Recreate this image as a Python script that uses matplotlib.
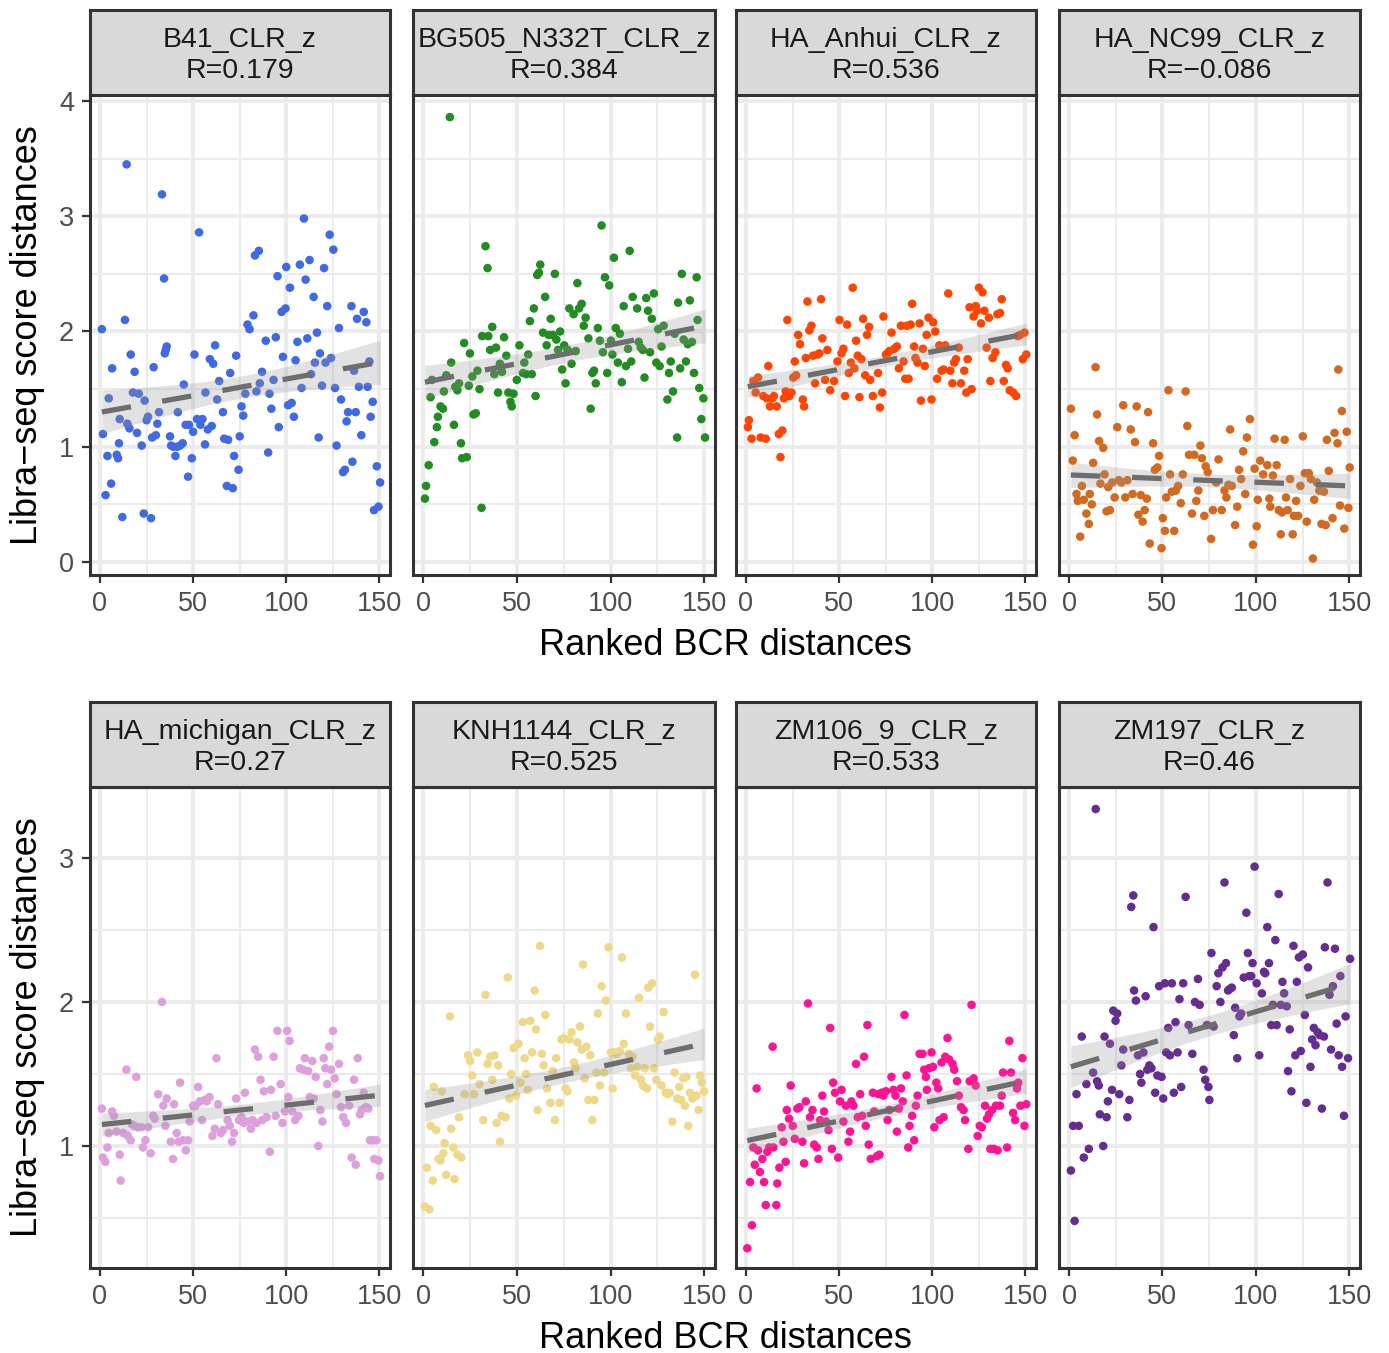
import numpy as np
import matplotlib.pyplot as plt

plt.rcParams['font.family'] = ['Liberation Sans', 'DejaVu Sans']

# ------------------------------------------------------------
# DATA (rank vs. score distance)
# ------------------------------------------------------------
panel_names = ["B41_CLR_z", "BG505_N332T_CLR_z", "HA_Anhui_CLR_z", "HA_NC99_CLR_z",
               "HA_michigan_CLR_z", "KNH1144_CLR_z", "ZM106_9_CLR_z", "ZM197_CLR_z"]
panel_r = ["0.179", "0.384", "0.536", "\u22120.086", "0.27", "0.525", "0.533", "0.46"]
panel_colors = ["#4169E1", "#228B22", "#FF4500", "#D2691E",
                "#DDA0DD", "#EED98A", "#FF1493", "#662D91"]

b41_x = [1, 1.6, 3, 4, 4.7, 6, 6.5, 9, 9.7, 10.2, 10.6, 12, 13.4, 14.3, 14.7, 15.8, 16.5, 17.7, 18.6, 19.9,
         20.8, 22.4, 23.5, 24, 25, 25.8, 27.4, 28, 28.8, 30, 30.8, 31.7, 33.3, 34.4, 34.8, 35.3, 35.8, 37.6, 38.2, 39.4,
         40.5, 41.6, 41.8, 43, 44.4, 45, 46, 47.3, 47.8, 49.3, 50, 50.7, 52.1, 53.2, 53.9, 55, 56.4, 56.6, 57.9, 59,
         60, 60.8, 61.8, 62.9, 64, 66, 66.7, 68.1, 68.8, 69.9, 71.3, 72, 73.1, 74.4, 75, 76, 76.9, 78, 79.2, 80.3,
         82.4, 83.2, 84, 85.3, 85.8, 87, 89, 90.3, 91, 92, 93.2, 94.4, 95.3, 96, 97.5, 98.2, 99.6, 100, 101, 102,
         102.9, 104.1, 105, 106, 107.3, 108.2, 109.5, 110.4, 111.3, 112.5, 113.3, 114.7, 115.4, 116.5, 117.4, 118.1,
         119.2, 120.3, 121.1, 122, 123.3, 124, 125.3, 126.2, 127, 128.3, 129.4, 130.5, 131.5, 132.4, 133.2, 135,
         135.5, 136.4, 137.3, 138, 139, 140.3, 141.6, 143, 143.7, 144.6, 145.3, 146.4, 147.1, 148.6, 149.5, 150.4]
b41_y = [2.02, 1.11, 0.58, 0.92, 1.42, 0.68, 1.68, 0.93, 0.90, 1.03, 1.24, 0.39, 2.10, 3.45, 1.20, 1.16, 1.80, 1.47, 1.65, 1.12,
         1.46, 1.01, 0.42, 1.40, 1.23, 1.26, 0.38, 1.08, 1.69, 1.10, 1.20, 1.30, 3.19, 2.46, 1.81, 1.84, 1.87, 1.09, 1.01, 1.00,
         0.92, 1.00, 1.30, 1.01, 1.03, 1.54, 1.19, 0.74, 1.19, 0.90, 1.13, 1.80, 1.24, 2.86, 1.19, 1.24, 1.02, 1.47, 1.15, 1.76,
         1.18, 1.72, 1.88, 1.41, 1.57, 1.30, 1.07, 0.66, 1.06, 1.64, 0.64, 0.92, 1.79, 0.80, 1.09, 1.35, 1.27, 1.46, 2.06, 2.02,
         2.14, 2.66, 1.48, 2.70, 1.55, 1.65, 1.92, 0.95, 1.46, 1.33, 1.58, 1.95, 2.48, 1.17, 2.17, 1.78, 2.20, 2.56, 1.36, 2.38,
         1.38, 1.26, 1.75, 1.91, 2.58, 1.51, 2.98, 2.45, 1.94, 2.62, 1.63, 2.30, 1.73, 1.99, 1.08, 1.81,
         1.53, 2.55, 1.73, 2.22, 2.84, 1.77, 2.71, 1.51, 1.01, 2.03, 1.41, 0.78, 0.80, 1.22, 1.30, 2.22,
         0.87, 1.66, 1.30, 2.11, 1.52, 1.10, 2.17, 2.08, 1.52, 1.74, 1.26, 1.39, 0.45, 0.83, 0.48, 0.69]

bg505_x = [1, 1.6, 3, 4, 4.7, 6, 7.4, 7.9, 9.3, 10.6, 11.1, 12.4, 14.3, 15, 16.5, 17.2, 18.3, 19.2, 20.2, 20.8,
           21.9, 23.3, 24.4, 25, 26.3, 26.9, 28.1, 29, 30.1, 31.2, 31.5, 33.3, 34.4, 34.8, 35.8, 36.9, 38, 38.9, 40, 41,
           42.1, 43.2, 44.4, 45.5, 46.6, 47.3, 48.2, 50, 51.4, 53.3, 54, 55, 56.1, 57, 58, 59.1, 60, 60.9, 61.8, 62.5,
           64, 65.1, 65.9, 67, 68.1, 69.2, 70.3, 71.1, 72, 73.1, 74.2, 75.3, 76, 77.1, 78, 79.2, 80.3, 81.4, 82.3, 83.2,
           84.6, 85.7, 86.7, 88.2, 89.4, 90.3, 91.2, 92.1, 93.2, 94.3, 95.2, 95.9, 97, 98.2, 99.3, 100.2, 101, 101.8,
           102.8, 103.9, 105, 106, 107, 108.2, 109.3, 110.2, 111, 111.8, 114.2, 115, 116.1, 117.2, 118.1, 119, 120,
           121.1, 122, 123.1, 124.4, 125.4, 126.2, 127.2, 128.3, 130.3, 131.2, 132.1, 133.3, 134.2, 135.5, 136, 137.1,
           138, 139, 140.2, 141.2, 142.3, 143.4, 144.5, 145.9, 146.4, 147.3, 148.4, 149.5, 150.4]
bg505_y = [0.55, 0.66, 0.84, 1.43, 1.58, 1.04, 1.17, 1.26, 1.35, 1.33, 1.48, 1.62, 3.86, 1.73, 1.19, 1.52, 1.49, 1.55, 1.03, 0.90,
           1.90, 0.91, 1.53, 1.81, 1.61, 1.28, 1.29, 1.66, 1.50, 0.47, 1.96, 2.74, 2.55, 1.96, 1.84, 2.04, 1.63, 1.86, 1.47, 1.72,
           1.65, 1.95, 1.79, 1.47, 1.39, 1.35, 1.46, 1.58, 1.88, 1.64, 1.73, 1.63, 1.80, 2.09, 1.63, 2.20, 1.44, 2.49, 2.51, 2.58,
           1.99, 2.30, 1.88, 1.97, 2.11, 1.97, 2.50, 1.93, 1.84, 2.00, 1.67, 1.88, 1.55, 1.84, 2.20, 1.72, 2.15, 1.83, 2.42, 2.20,
           2.24, 2.05, 2.12, 1.94, 1.33, 1.64, 1.66, 1.55, 2.03, 1.92, 2.92, 1.82, 2.47, 1.64, 2.40, 1.92, 1.80, 2.64,
           2.03, 1.73, 1.98, 1.56, 2.22, 1.70, 1.85, 2.70, 1.74, 2.30, 2.20, 1.91, 1.86, 1.84, 1.60, 2.29, 2.18,
           1.82, 2.11, 2.33, 1.73, 2.02, 1.70, 1.87, 2.05, 1.41, 1.64, 1.74, 1.48, 1.98, 1.08, 2.25, 1.68,
           2.50, 1.93, 1.74, 1.89, 2.27, 1.91, 1.64, 2.47, 2.10, 1.51, 1.24, 1.42, 1.08]

anhui_x = [1, 1.6, 3, 4, 5.2, 6.5, 7.9, 9.3, 10.6, 11.1, 12, 12.9, 14.2, 15, 16.5, 17.6, 18.5, 19.5, 20.4, 21.3,
           22.2, 23.3, 24.4, 25.4, 26.2, 26.9, 28, 29, 30.5, 31.2, 32.1, 33, 34, 35.1, 36, 37.1, 38.4, 39.4, 40.3, 41,
           42.5, 43.7, 45.2, 47.3, 49.1, 50.2, 51.3, 52.3, 53.2, 54.3, 55.2, 56.3, 57.3, 58.2, 59.1, 60, 60.9, 62, 62.9,
           64, 65, 66.1, 66.7, 68.1, 70.9, 71.9, 73.1, 73.8, 75.1, 76, 77, 78.1, 79.6, 81, 82.1, 83.2, 84.6, 85.5, 86.4,
           87.3, 88.4, 89.2, 90.3, 91, 92.1, 93.2, 93.9, 95, 96, 97, 98, 99.6, 100.5, 101.6, 102.6, 103.8, 105, 106.1,
           107, 108.6, 109.7, 110.8, 111.8, 112.7, 114.2, 115.4, 117.2, 118.3, 119, 120, 121.1, 122.2, 123.3, 124,
           125.1, 126.2, 127, 128, 129.2, 130.4, 131.2, 132.4, 133.9, 135, 136.4, 137.3, 138.4, 139.6, 140.5, 141.6,
           143.4, 145, 145.9, 147.1, 148.6, 149.5, 150.5]
anhui_y = [1.17, 1.23, 1.07, 1.57, 1.47, 1.60, 1.08, 1.44, 1.07, 1.42, 1.70, 1.35, 1.42, 1.44, 1.35, 1.11, 0.91, 1.14, 1.42, 1.48,
           2.10, 1.44, 1.47, 1.60, 1.74, 1.62, 1.97, 1.89, 1.41, 1.35, 1.77, 2.26, 2.01, 2.05, 1.79, 1.55, 1.80, 1.81, 2.28, 1.94,
           1.58, 1.84, 1.49, 1.57, 1.74, 2.10, 1.81, 1.85, 1.44, 2.06, 1.64, 1.73, 2.38, 1.68, 1.92, 1.79, 1.43, 1.76, 2.11,
           1.62, 1.97, 2.04, 1.58, 1.44, 1.64, 1.34, 1.47, 2.13, 1.80, 1.81, 1.83, 1.99, 1.85, 1.87, 1.68, 2.05, 1.74, 1.59, 2.05,
           1.59, 2.06, 2.24, 1.87, 1.77, 1.73, 2.07, 1.40, 1.85, 1.70, 1.97, 2.12, 1.41, 2.08, 2.00, 1.59, 1.88, 1.66, 1.67,
           1.88, 2.33, 1.66, 1.55, 1.73, 1.76, 1.86, 1.55, 1.66, 1.47, 1.76, 2.21, 1.50, 2.13, 2.22, 2.18,
           2.38, 2.07, 2.34, 2.18, 1.86, 2.12, 1.57, 1.77, 1.82, 2.15, 2.16, 2.28, 1.57, 1.71, 1.68, 1.49,
           1.47, 1.44, 1.96, 1.97, 1.76, 1.99, 1.80]

nc99_x = [1, 2, 3, 4, 4.7, 6, 6.9, 7.9, 9.3, 10.6, 11.1, 12.2, 12.9, 14.2, 15, 16.1, 16.8, 18.3, 19, 20.1,
          21, 21.9, 23.1, 24.4, 25.8, 26.7, 28, 29, 30.1, 31.2, 33, 34, 35.3, 36.2, 37.1, 38.4, 39.4, 40.5, 41.6, 42.3,
          43.2, 45, 45.9, 47.3, 48.2, 49.5, 50.2, 51.3, 52, 53.2, 54.1, 55, 56.3, 57.2, 58.4, 59.8, 60.9, 62.4, 63.3,
          64.2, 65.8, 67, 68.1, 69.2, 70.3, 71.1, 72.4, 73.1, 74.2, 76, 77, 78.7, 80, 81.7, 83.2, 84.2, 85.3, 86.2,
          87.1, 88.9, 90, 91, 92.1, 93.2, 94.3, 95.2, 96.8, 98.4, 99.3, 100.4, 101, 102.3, 103.9, 106.1, 107.2, 107.7,
          109.1, 110, 111.1, 112.2, 113.3, 114, 115.4, 116.1, 117, 118.3, 119.7, 120.4, 121.5, 122.6, 123.8, 125.1,
          126.2, 127.2, 128.3, 129.4, 130.5, 131.2, 132.6, 133.9, 135.1, 136.4, 137.3, 138, 139, 141, 142.1, 143.7,
          144.1, 145, 146, 147.3, 148.6, 149.5, 150.2]
nc99_y = [1.33, 0.88, 1.10, 0.59, 0.53, 0.22, 0.66, 0.54, 0.42, 0.33, 0.59, 0.50, 0.86, 1.69, 1.28, 1.05, 0.68, 0.99, 0.76, 0.44,
          0.65, 0.45, 0.69, 0.56, 1.17, 0.71, 0.69, 1.36, 0.56, 0.71, 1.15, 0.59, 1.04, 1.35, 0.41, 0.58, 0.35, 0.45, 0.55, 1.30,
          0.16, 1.03, 0.80, 0.82, 0.92, 0.12, 0.38, 0.27, 0.56, 1.49, 0.76, 0.61, 0.27, 0.62, 0.66, 0.51, 0.76, 1.48, 1.18,
          0.93, 0.42, 0.93, 0.53, 0.62, 1.01, 0.90, 0.40, 0.83, 0.78, 0.20, 0.45, 0.69, 0.89, 0.45, 0.62, 0.56, 0.67, 1.15,
          0.66, 0.32, 0.48, 0.80, 0.72, 0.96, 0.59, 1.08, 1.24, 0.15, 0.81, 0.31, 0.54, 0.88, 0.76, 0.84, 0.55, 0.48,
          0.75, 1.07, 0.84, 0.45, 0.24, 0.43, 1.06, 0.56, 0.45, 0.72, 0.24, 0.40, 0.53, 0.40, 0.66, 1.09,
          0.77, 0.35, 0.77, 0.72, 0.03, 0.54, 0.69, 0.62, 0.33, 0.61, 0.32, 1.06, 0.79, 0.38, 1.12, 1.03,
          1.67, 0.49, 1.31, 0.29, 1.13, 0.47, 0.82]

mich_x = [1, 1.6, 2.9, 4, 4.7, 6.5, 7.5, 8.8, 10.6, 11.1, 12.4, 14.2, 15, 16.5, 17.2, 18.6, 19.5, 20.4, 22.2, 23.1,
          24.4, 25.8, 27.2, 28.5, 29.4, 31.2, 33.3, 34, 35.1, 35.8, 38, 39.2, 39.8, 41.2, 42.3, 43, 44.6, 46.1, 47.3, 48.2,
          50, 51.3, 52.7, 53.6, 54.8, 56.3, 57.3, 58.8, 60.4, 61.6, 62.5, 63.4, 64.9, 66.1, 68.5, 69.7, 70.9, 72, 73.1,
          74.6, 76, 77.2, 77.8, 79.2, 81, 81.9, 83.2, 84, 84.9, 86.2, 87.1, 88, 89.4, 91.2, 91.8, 93.2, 94.3, 95.2, 97,
          98, 99.3, 100.5, 101.1, 101.8, 103.2, 104.8, 106.5, 107.3, 109.1, 110, 111.8, 112.7, 114, 114.7, 115.8, 117.2,
          118.3, 119.4, 120.1, 121, 122, 123, 124, 125.1, 126, 127, 128.3, 129.4, 130.6, 132.1, 133.7, 135.1, 136.4,
          137.3, 138.4, 139.6, 140.5, 141.6, 142.7, 144.1, 145, 146.2, 147.3, 148.4, 149.5, 150.4]
mich_y = [1.26, 0.92, 0.89, 0.99, 1.09, 1.24, 1.21, 1.10, 0.94, 0.76, 1.09, 1.53, 1.07, 1.04, 1.15, 1.14, 1.48, 1.13, 1.13, 0.99,
          1.04, 1.13, 0.95, 1.21, 1.19, 1.36, 2.00, 1.28, 1.14, 1.33, 1.03, 0.91, 1.29, 1.09, 1.03, 1.44, 1.04, 0.97, 1.04, 1.17,
          1.28, 1.28, 1.41, 1.31, 1.18, 1.32, 1.31, 1.34, 1.07, 1.12, 1.61, 1.29, 1.09, 1.11, 1.18, 1.14, 1.03, 1.09, 1.33,
          1.18, 1.20, 1.16, 1.37, 1.17, 1.12, 1.18, 1.67, 1.16, 1.62, 1.46, 1.18, 1.38, 1.20, 0.96, 1.39, 1.62, 1.21, 1.80, 1.43,
          1.16, 1.24, 1.80, 1.34, 1.73, 1.24, 1.18, 1.21, 1.54, 1.53, 1.61, 1.52, 1.34, 1.59, 1.33, 1.48, 1.00,
          1.25, 1.17, 1.61, 1.54, 1.43, 1.69, 1.53, 1.80, 1.47, 1.36, 1.57, 1.27, 1.20, 1.16, 1.28, 0.92, 1.46,
          0.87, 1.61, 1.22, 1.25, 1.37, 1.27, 1.26, 1.04, 1.04, 0.91, 1.04, 0.90, 0.79]

knh_x = [1, 2, 3.4, 4, 5.2, 5.7, 7, 8.2, 9.3, 10, 10.8, 11.5, 12.4, 14.3, 15, 16.1, 16.8, 18.3, 19.2, 20.4,
         22.2, 24, 25.1, 26.2, 27.2, 29, 30.1, 32.1, 33.3, 34.4, 35.8, 36.9, 38, 39.2, 40.1, 41, 41.9, 44.1, 45.2, 46.1,
         47, 48.2, 49.6, 50.9, 52, 53.2, 54.1, 55, 55.9, 57.2, 58.1, 59.5, 60.2, 61.1, 62.4, 63.4, 64.3, 65.2, 66.1,
         67.9, 69.2, 70.3, 71, 72.9, 73.8, 75.1, 76, 76.9, 78.1, 79.2, 80.5, 81.4, 82.4, 83.7, 84.6, 85.3, 86.2, 87.1,
         88.2, 89.2, 90.3, 91.4, 92.5, 93.2, 94.3, 95.2, 96.6, 97.5, 98.9, 100.2, 101.1, 102.2, 103.2, 105, 106.1, 107,
         108.2, 109.7, 110.9, 111.8, 113.1, 114.3, 115.2, 116.3, 117.2, 118.3, 119.4, 120.1, 121.1, 122.2, 123.3,
         124.4, 125.3, 126.2, 127.2, 128.3, 129.4, 130.3, 131.5, 132.9, 134.2, 135.5, 136.6, 137.6, 138.7, 139.6,
         140.5, 141.4, 142.3, 143.7, 145, 145.9, 147, 147.7, 148.7, 149.8]
knh_y = [0.58, 0.85, 0.56, 1.14, 0.76, 1.41, 1.11, 0.91, 0.90, 1.38, 0.95, 1.02, 0.80, 1.90, 1.12, 0.99, 0.77, 0.94, 1.20, 0.92,
         1.36, 1.63, 1.59, 1.49, 1.36, 1.65, 1.43, 1.18, 2.05, 1.57, 1.62, 1.46, 1.63, 1.16, 1.56, 1.03, 1.21, 1.20, 2.17, 1.33,
         1.50, 1.68, 1.35, 1.71, 1.44, 1.86, 1.61, 1.50, 1.39, 1.87, 1.65, 2.08, 1.81, 1.25, 2.39, 1.64, 1.56, 1.91, 1.40,
         1.30, 1.52, 1.18, 1.61, 1.30, 1.74, 1.75, 1.40, 1.38, 1.74, 1.79, 1.58, 1.54, 1.72, 1.83, 1.67, 2.26, 1.47, 1.69,
         1.32, 1.63, 1.18, 1.32, 1.51, 1.92, 1.42, 2.11, 1.51, 2.01, 2.38, 1.65, 1.40, 1.65, 1.64, 1.66, 2.31, 1.71,
         1.92, 1.64, 1.54, 1.62, 1.49, 1.55, 2.03, 1.46, 1.42, 1.54, 1.40, 2.10, 1.83, 2.13, 1.54,
         1.46, 1.74, 1.76, 1.42, 1.93, 1.37, 1.36, 1.37, 1.17, 1.51, 1.33, 1.41, 1.32, 1.47, 1.28,
         1.48, 1.14, 1.37, 1.33, 2.19, 1.35, 1.25, 1.49, 1.44, 1.38]

zm106_x = [0.7, 2.2, 3.2, 4, 4.7, 5.7, 6.5, 7.5, 8.8, 9.7, 10.6, 11.5, 12.4, 14.3, 14.7, 16.3, 16.8, 17.9, 19.2, 20.1,
           21.3, 21.9, 23.1, 24, 25.1, 26.2, 27.6, 28.7, 30.3, 31.2, 32.1, 33.3, 34.4, 35.7, 36.6, 38, 38.9, 39.8, 41, 41.9,
           43, 44.3, 45.2, 46.1, 46.8, 47.8, 49.5, 50.5, 51.3, 52.3, 53.6, 55, 55.9, 56.6, 57.7, 59.1, 60, 61.3, 62.4,
           63.4, 64.3, 65.2, 65.9, 67, 68.1, 68.8, 70.3, 71, 71.7, 72.8, 73.8, 75.1, 76, 76.9, 78.1, 79.2, 80.3, 81, 82.1,
           83.2, 84.2, 85.1, 86.2, 87.1, 87.8, 89.2, 90.3, 91.2, 92.1, 93.2, 94.8, 95.7, 96.6, 97.1, 98.2, 99.6, 100.4,
           101.1, 102.2, 103.2, 103.9, 105, 106.1, 107, 108.2, 109.1, 110.9, 111.8, 113.3, 114.3, 115.4, 116.8, 117.6,
           119.4, 120.1, 121.1, 122.2, 123.3, 124.4, 125.5, 126.6, 128.3, 129.4, 130.5, 131.2, 132.1, 133, 134.2, 135.1,
           136.4, 137.3, 138, 140.2, 141.4, 142.3, 143.4, 144.5, 145.5, 146.2, 147.3, 148.4, 149.5, 150.5]
zm106_y = [0.29, 0.75, 0.45, 0.99, 0.87, 1.40, 0.97, 0.82, 0.91, 0.75, 0.59, 0.96, 0.99, 1.69, 0.99, 0.59, 0.74, 0.85, 1.13, 1.03,
           0.89, 1.25, 1.19, 1.42, 1.14, 1.05, 1.26, 1.27, 1.03, 0.88, 1.31, 1.99, 1.20, 1.25, 1.01, 0.99, 0.91, 1.18, 1.35, 1.24,
           1.17, 1.11, 1.82, 0.98, 1.44, 1.37, 0.92, 1.31, 1.39, 1.17, 1.28, 1.03, 1.10, 1.31, 1.28, 1.57, 1.20, 1.36, 1.21,
           1.62, 1.14, 1.84, 1.01, 0.91, 1.37, 1.24, 0.93, 1.36, 0.94, 1.37, 1.35, 1.38, 1.18, 1.25, 1.48, 1.39, 1.35, 1.10, 1.26,
           1.40, 1.31, 1.91, 1.49, 0.99, 1.14, 1.21, 1.04, 1.28, 1.35, 1.64, 1.64, 1.53, 1.48, 1.39, 1.54, 1.65, 1.55,
           1.13, 1.44, 1.40, 1.18, 1.58, 1.20, 1.62, 1.75, 1.60, 1.57, 1.53, 1.45, 1.35, 1.27, 1.25, 1.18,
           0.98, 1.45, 1.98, 1.47, 1.42, 1.07, 1.14, 1.13, 1.28, 1.19, 1.22, 0.98, 1.25, 0.98, 1.28, 0.97,
           1.28, 1.35, 1.51, 0.99, 1.73, 1.51, 1.23, 1.18, 1.40, 1.44, 1.28, 1.61, 1.14, 1.29]

zm197_x = [1, 2.2, 3, 4, 5.2, 6.8, 7.9, 9.3, 10.6, 12.9, 14.3, 15, 15.9, 16.5, 18.3, 19, 20.1, 20.8, 21.9, 23,
           23.7, 24.9, 25.8, 26.9, 28, 29, 31.2, 32.3, 33.3, 34.4, 34.8, 35.8, 36.9, 38, 38.7, 39.8, 41, 41.9, 43, 44.1,
           45.2, 46.1, 47.3, 48.2, 49.5, 50.4, 51.3, 52, 53.1, 54, 55, 56.1, 57, 58.1, 59.1, 60, 61.1, 62.4, 64, 66,
           67.4, 69, 69.9, 72, 72.9, 73.8, 74.6, 75.1, 76.2, 77.4, 79, 79.9, 81, 82.1, 83.2, 84, 85.1, 86, 87.1, 88.2,
           88.9, 90, 91.2, 92.1, 93.5, 94.9, 95.7, 96.4, 97.5, 98.2, 99.3, 100.4, 101.8, 103.2, 104.3, 105, 106.1, 107,
           108.2, 109.1, 110.4, 111.1, 112.2, 113.3, 114.2, 115.1, 116.5, 117.2, 118.1, 119, 120.1, 121.1, 121.9, 123,
           124, 125.1, 126.2, 127, 127.9, 129.2, 130.1, 131, 131.9, 133, 134.2, 135.3, 136.4, 136.9, 138.3, 139.4,
           140.2, 141.2, 142.3, 143.2, 144.3, 145.2, 146.1, 147.1, 148, 149.3, 150.4]
zm197_y = [0.83, 1.14, 0.48, 1.36, 1.14, 1.76, 0.92, 1.43, 0.98, 1.51, 3.34, 1.45, 1.42, 1.22, 1.00, 1.76, 1.20, 1.31, 1.71, 1.39,
           1.94, 1.87, 1.92, 1.36, 1.56, 1.67, 1.20, 1.32, 2.66, 2.74, 2.08, 2.01, 1.63, 1.50, 1.44, 1.65, 2.04, 1.53, 1.56, 1.54,
           2.52, 1.37, 1.49, 2.11, 1.48, 1.33, 2.13, 1.65, 1.82, 1.63, 2.13, 1.37, 1.86, 1.65, 2.02, 1.41, 2.13, 2.73, 1.84, 1.64,
           2.00, 2.16, 1.98, 1.53, 1.46, 1.84, 1.41, 1.32, 2.34, 1.83, 2.11, 2.20, 2.00, 2.24, 2.83, 2.27, 2.08, 2.09, 2.10, 1.77,
           1.96, 1.61, 1.90, 1.92, 2.17, 2.62, 2.34, 2.18, 2.18, 2.27, 2.94, 2.13, 1.63, 2.06, 2.21, 2.20, 2.52, 2.27,
           1.84, 1.98, 2.43, 1.84, 2.75, 1.98, 2.14, 2.06, 1.97, 1.52, 1.81, 1.38, 2.39, 1.63, 2.14, 2.31,
           1.66, 2.33, 1.91, 1.30, 2.24, 1.55, 1.74, 1.82, 1.70, 1.79, 1.77, 1.26, 1.76, 2.38, 2.83, 2.05,
           1.67, 2.11, 2.37, 1.85, 1.63, 2.18, 1.55, 1.21, 1.90, 1.61, 2.30]

panel_x = [b41_x, bg505_x, anhui_x, nc99_x, mich_x, knh_x, zm106_x, zm197_x]
panel_y = [b41_y, bg505_y, anhui_y, nc99_y, mich_y, knh_y, zm106_y, zm197_y]

row_ylim = [(-0.113, 4.052), (0.153, 3.493)]
row_yticks = [[0, 1, 2, 3, 4], [1, 2, 3]]
row_yminor = [[0.5, 1.5, 2.5, 3.5], [0.5, 1.5, 2.5]]
x_ticks = [0, 50, 100, 150]
x_minor = [25, 75, 125]

# ------------------------------------------------------------
# LAYOUT (pixel boxes of the reference)
# ------------------------------------------------------------
W, H = 1389, 1353
col_px = [(90, 390), (413, 715), (736, 1036), (1059, 1360)]
row_px = [(95, 575), (787, 1268)]
strip_px = [(10, 95), (702, 787)]

DARK = '#333333'
GRID = '#EBEBEB'

fig = plt.figure(figsize=(W / 100, H / 100), dpi=100)


def box(x0, x1, y0, y1):
    return [x0 / W, 1 - y1 / H, (x1 - x0) / W, (y1 - y0) / H]


def lm_band(x, y, xs):
    """Least-squares fit with 95% confidence band (like geom_smooth(method='lm'))."""
    x = np.asarray(x)
    y = np.asarray(y)
    n = len(x)
    slope, icpt = np.polyfit(x, y, 1)
    resid = y - (slope * x + icpt)
    s = np.sqrt(np.sum(resid ** 2) / (n - 2))
    sxx = np.sum((x - x.mean()) ** 2)
    se = s * np.sqrt(1 / n + (xs - x.mean()) ** 2 / sxx)
    fit = slope * xs + icpt
    return fit, fit - 1.976 * se, fit + 1.976 * se


for i in range(8):
    r, c = divmod(i, 4)
    x0, x1 = col_px[c]
    y0, y1 = row_px[r]
    ax = fig.add_axes(box(x0, x1, y0, y1))

    ax.set_xticks(x_ticks)
    ax.set_xticks(x_minor, minor=True)
    ax.set_yticks(row_yticks[r])
    ax.set_yticks(row_yminor[r], minor=True)
    ax.set_xlim(-5.36, 155.7)
    ax.set_ylim(*row_ylim[r])
    ax.grid(True, which='major', color=GRID, lw=2.8, zorder=0)
    ax.grid(True, which='minor', color=GRID, lw=1.5, zorder=0)
    ax.set_axisbelow(True)

    ax.scatter(panel_x[i], panel_y[i], s=38, color=panel_colors[i], edgecolors='none', zorder=2)

    xs = np.linspace(min(panel_x[i]), max(panel_x[i]), 100)
    fit, lo, hi = lm_band(panel_x[i], panel_y[i], xs)
    ax.fill_between(xs, lo, hi, color='#999999', alpha=0.28, lw=0, zorder=3)
    ax.plot(xs, fit, color='#6E6E6E', lw=3.8, ls=(0, (5.6, 6.0)), zorder=4)

    for sp in ax.spines.values():
        sp.set_color(DARK)
        sp.set_linewidth(2.2)
    ax.tick_params(which='major', length=5.5, width=1.6, color=DARK,
                   labelsize=19.5, labelcolor='#4D4D4D', pad=6)
    ax.tick_params(which='minor', length=0)
    if c != 0:
        ax.tick_params(axis='y', labelleft=False, length=0)

    # strip header
    sy0, sy1 = strip_px[r]
    sax = fig.add_axes(box(x0, x1, sy0, sy1))
    sax.set_facecolor('#D9D9D9')
    sax.set_xticks([])
    sax.set_yticks([])
    for sp in sax.spines.values():
        sp.set_color(DARK)
        sp.set_linewidth(2.2)
    sax.text(0.5, 0.47, f"{panel_names[i]}\nR={panel_r[i]}", ha='center', va='center',
             fontsize=20.5, color='#1A1A1A', linespacing=1.25, transform=sax.transAxes)

# axis titles
for r in range(2):
    y0, y1 = row_px[r]
    fig.text(28 / W, 1 - (y0 + y1) / 2 / H, "Libra\u2212seq score distances", rotation=90,
             ha='center', va='center', fontsize=26)
    fig.text(725 / W, 1 - (y1 + 70) / H, "Ranked BCR distances",
             ha='center', va='center', fontsize=26)

fig.savefig('out.png', dpi=100)
